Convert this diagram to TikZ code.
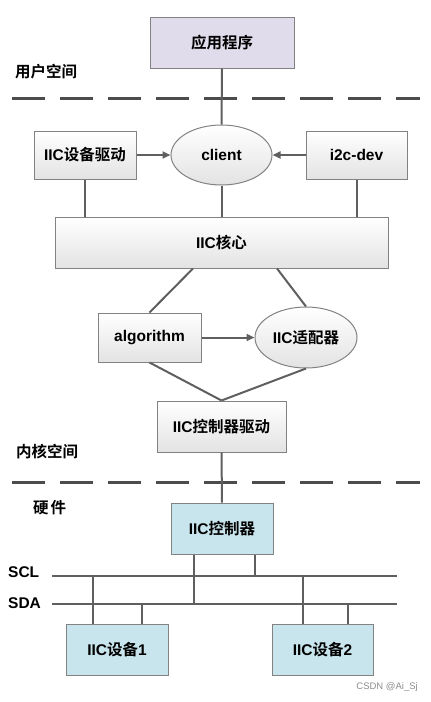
\documentclass[tikz,border=0pt]{standalone}
\usepackage{fontspec}
\setmainfont{Liberation Sans}
\newfontfamily\cjk{Noto Sans CJK SC}[BoldFont={Noto Sans CJK SC Bold}]
\usetikzlibrary{shapes.geometric,arrows.meta,calc}
\definecolor{lav}{RGB}{225,220,236}
\definecolor{lblue}{RGB}{200,228,236}
\definecolor{lnc}{RGB}{95,95,95}
\definecolor{bdr}{RGB}{130,130,130}
\tikzset{
  gbox/.style={draw=bdr,line width=1pt,rectangle,top color=white,bottom color=black!11,
    font=\fontsize{15.5}{18}\selectfont\bfseries,inner sep=0pt},
  pbox/.style={gbox,top color=lav,bottom color=lav},
  bbox/.style={gbox,top color=lblue,bottom color=lblue},
  ell/.style={gbox,ellipse},
  conn/.style={draw=lnc,line width=2pt},
  arr/.style={conn,-{Triangle[length=8pt,width=7pt]}},
  dash line/.style={draw=black!70,line width=3pt,dash pattern=on 33pt off 15pt},
  lbl/.style={anchor=west,inner sep=0pt,font=\fontsize{15.5}{18}\selectfont\bfseries},
}
\begin{document}
\begin{tikzpicture}[x=1pt,y=-1pt]
\useasboundingbox (0,0) rectangle (431,702);
% dashed separators
\coordinate (d1l) at (12,98); \coordinate (d1r) at (420,98);
\coordinate (d2l) at (12,482); \coordinate (d2r) at (420,482);
\draw[dash line] (d1l) -- (d1r);
\draw[dash line] (d2l) -- (d2r);
% nodes
\node[pbox,minimum width=144pt,minimum height=51pt] (app) at (222,42.5) {\cjk 应用程序};
\node[gbox,minimum width=102pt,minimum height=48pt] (drv) at (85,155) {IIC{\cjk 设备驱动}};
\node[ell,minimum width=101pt,minimum height=60pt] (client) at (221.5,155) {client};
\node[gbox,minimum width=101pt,minimum height=48pt] (dev) at (356.5,155) {i2c-dev};
\node[gbox,minimum width=333pt,minimum height=51pt] (core) at (221.5,242.5) {IIC{\cjk 核心}};
\node[gbox,minimum width=103pt,minimum height=49pt] (algo) at (149.5,337.5) {algorithm};
\node[ell,minimum width=102pt,minimum height=61pt] (adap) at (306,337.5) {IIC{\cjk 适配器}};
\node[gbox,minimum width=129pt,minimum height=51pt] (cdrv) at (221.5,426.5) {IIC{\cjk 控制器驱动}};
\node[bbox,minimum width=102pt,minimum height=51pt] (ctrl) at (222,528.5) {IIC{\cjk 控制器}};
\node[bbox,minimum width=102pt,minimum height=51pt] (dev1) at (117,649.5) {IIC{\cjk 设备}1};
\node[bbox,minimum width=101pt,minimum height=51pt] (dev2) at (322.5,649.5) {IIC{\cjk 设备}2};
% labels
\node[lbl] (lu) at (15,72) {\cjk 用户空间};
\node[lbl] (lk) at (16,452) {\cjk 内核空间};
\node[lbl] (lh) at (33,508) {\cjk 硬\hspace{2pt}件};
\node[lbl] (lscl) at (8,572) {SCL};
\node[lbl] (lsda) at (8,603) {SDA};
\node[anchor=east,inner sep=0pt,text=black!45,font=\fontsize{9.5}{11}\selectfont] (wm) at (418,687) {CSDN @Ai\_Sj};
% connectors
\draw[conn] (app.south) -- (client.north);
\draw[arr] (drv.east) -- (client.west);
\draw[arr] (dev.west) -- (client.east);
\draw[conn] (drv.south) -- (drv.south |- core.north);
\draw[conn] (client.south) -- (core.north);
\draw[conn] (dev.south) -- (dev.south |- core.north);
\coordinate (coreL) at ($(core.south)+(-28.5,0)$);
\coordinate (coreR) at ($(core.south)+(55.5,0)$);
\draw[conn] (coreL) -- (algo.north);
\draw[conn] (coreR) -- (adap.north);
\draw[arr] (algo.east) -- (adap.west);
\draw[conn] (algo.south) -- (cdrv.north);
\draw[conn] (adap.south) -- (cdrv.north);
\draw[conn] (cdrv.south) -- (ctrl.north);
% buses
\coordinate (sclL) at (52,576); \coordinate (sclR) at (397,576);
\coordinate (sdaL) at (52,604); \coordinate (sdaR) at (397,604);
\draw[conn] (sclL) -- (sclR);
\draw[conn] (sdaL) -- (sdaR);
\coordinate (c1) at ($(ctrl.south)+(-28,0)$);
\coordinate (c2) at ($(ctrl.south)+(33,0)$);
\coordinate (a1) at ($(dev1.north)+(-24,0)$);
\coordinate (a2) at ($(dev1.north)+(25,0)$);
\coordinate (b1) at ($(dev2.north)+(-19.5,0)$);
\coordinate (b2) at ($(dev2.north)+(25.5,0)$);
\draw[conn] (c1) -- (c1 |- sdaL);
\draw[conn] (c2) -- (c2 |- sclL);
\draw[conn] (a1) -- (a1 |- sclL);
\draw[conn] (a2) -- (a2 |- sdaL);
\draw[conn] (b1) -- (b1 |- sclL);
\draw[conn] (b2) -- (b2 |- sdaL);
\end{tikzpicture}
\end{document}
